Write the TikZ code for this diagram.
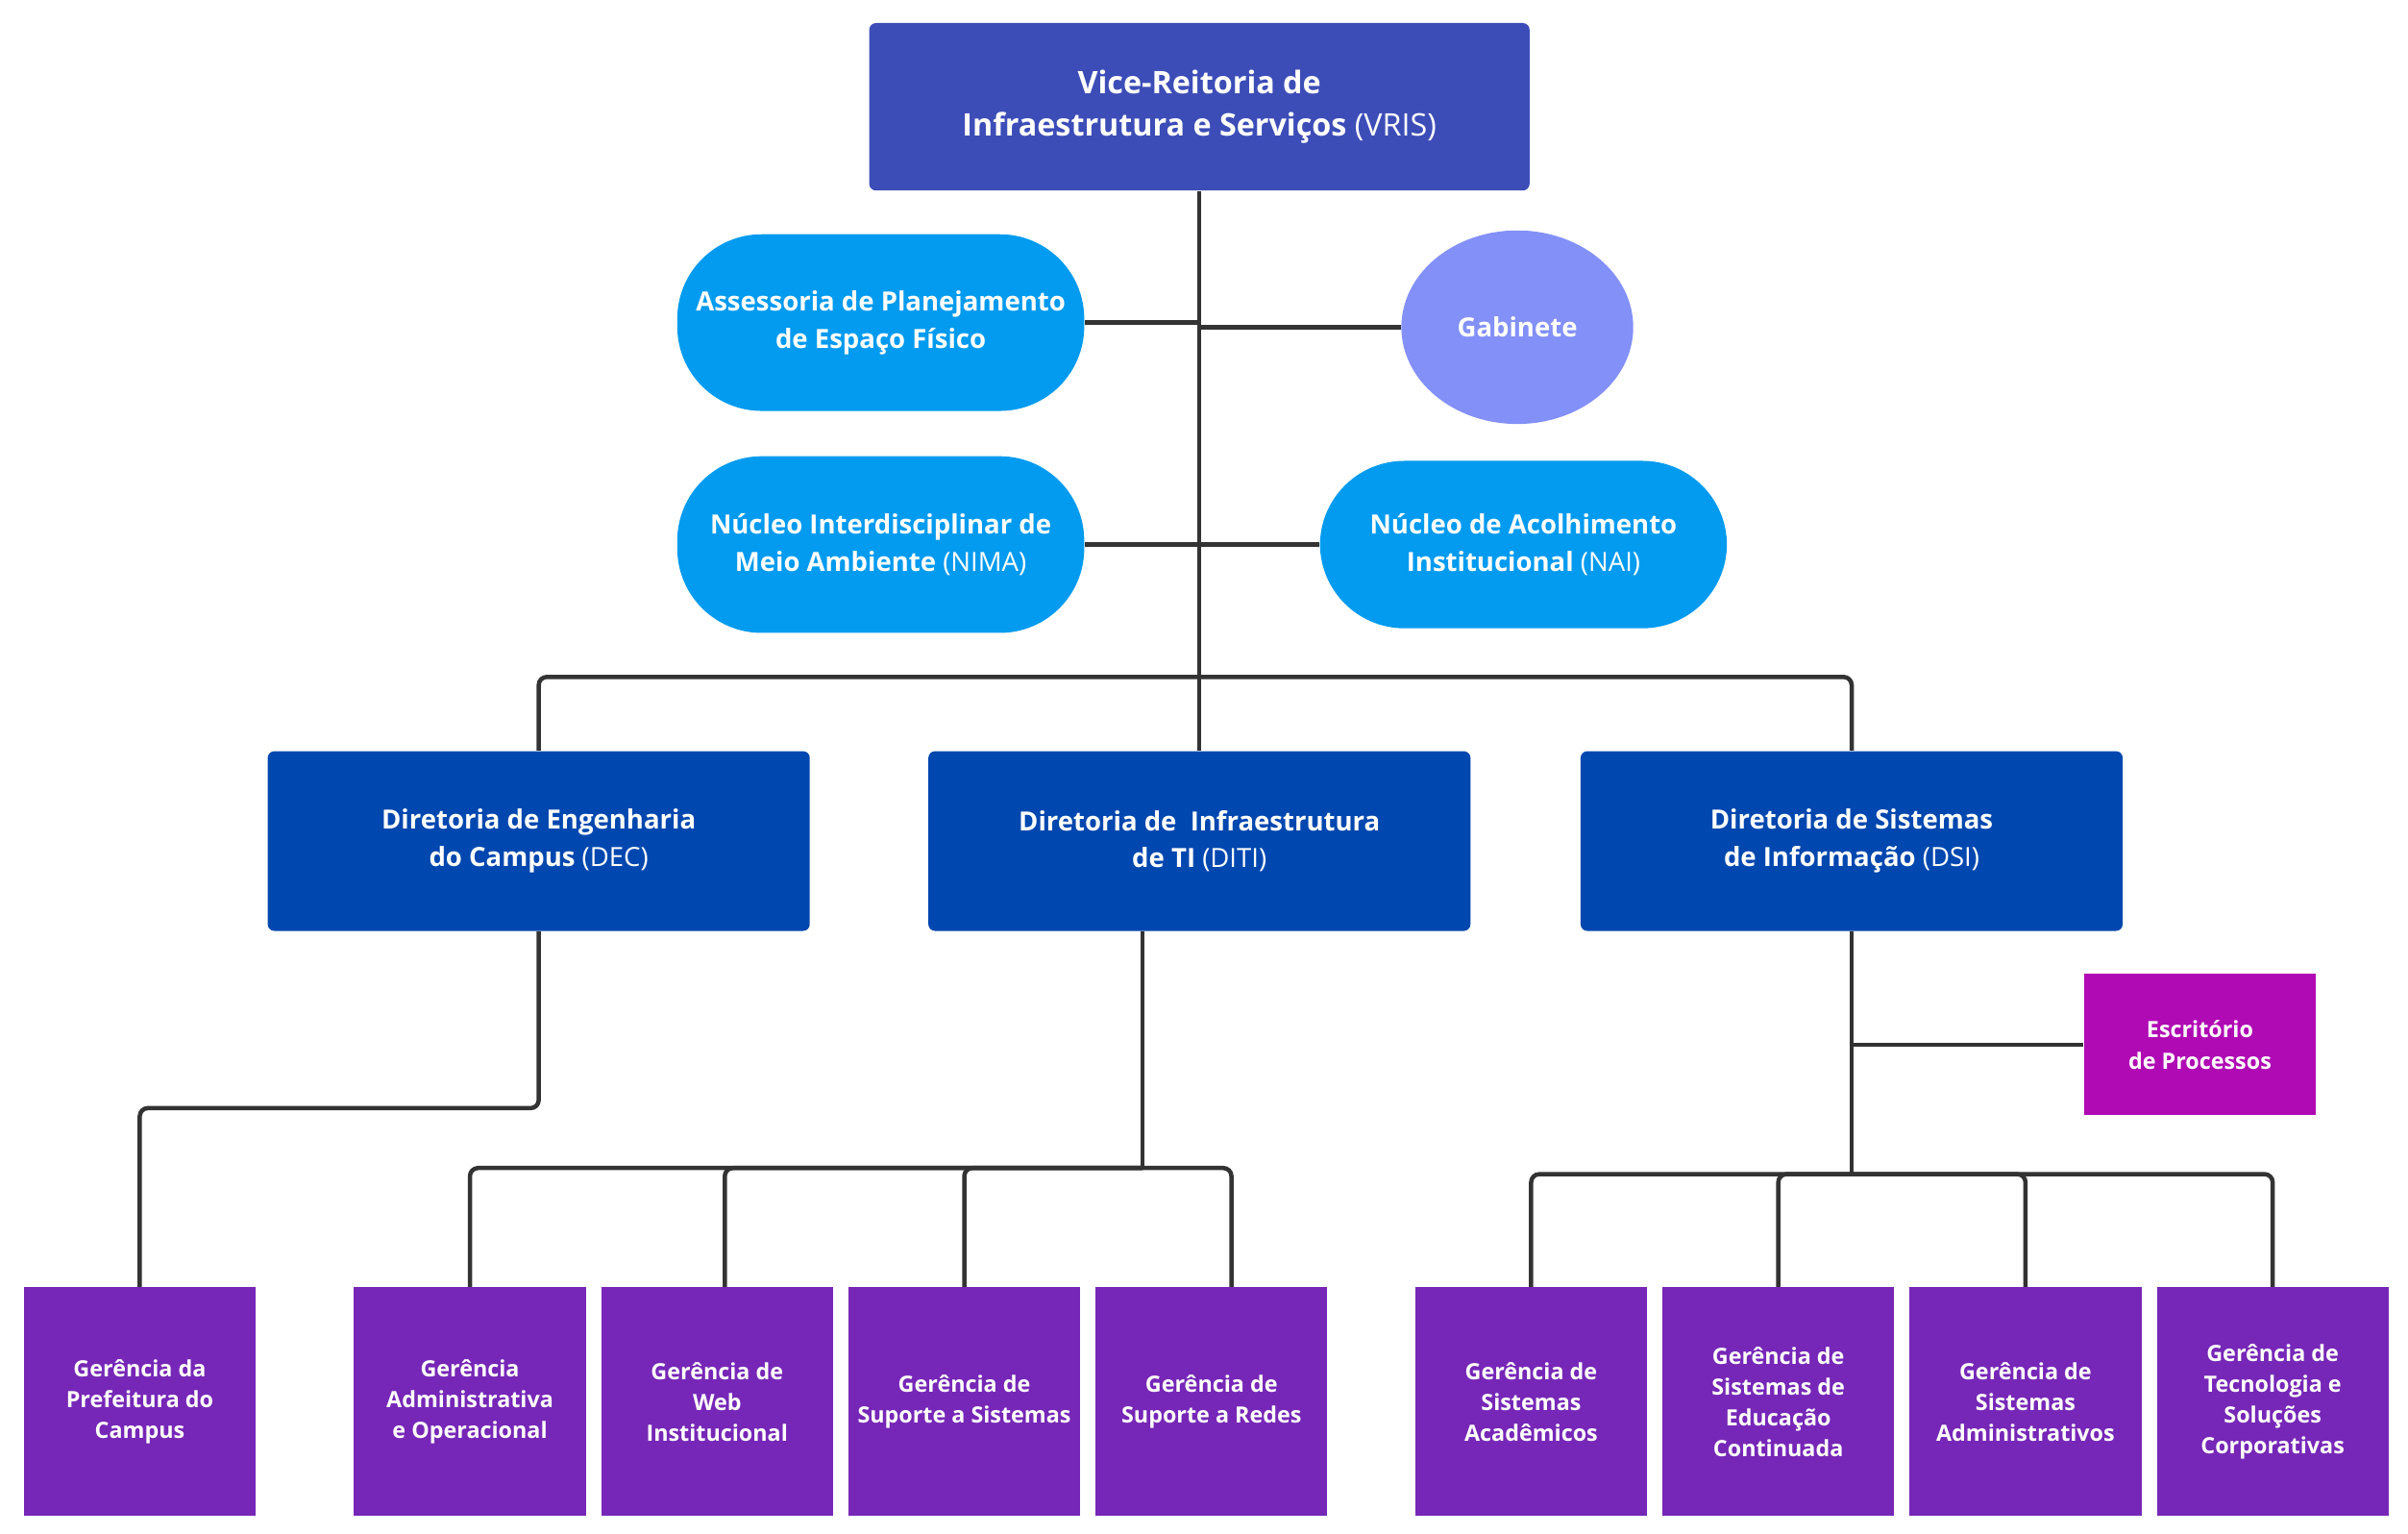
\documentclass[tikz,border=0pt]{standalone}
\usepackage{fontspec}
\setmainfont{Open Sans}
\usepackage{xcolor}
\usepackage{tikz}
\usetikzlibrary{arrows.meta,positioning,shapes.geometric,calc}

\definecolor{vrisblue}{HTML}{3D4DB7}
\definecolor{skyblue}{HTML}{039BEF}
\definecolor{lavender}{HTML}{8390F8}
\definecolor{dirblue}{HTML}{0047AF}
\definecolor{gerpurple}{HTML}{7627B7}
\definecolor{escrmag}{HTML}{B00AB4}
\definecolor{linkgray}{HTML}{333333}

\begin{document}
\begin{tikzpicture}[
  node distance=0.185cm and 0.185cm,
  topunit/.style={rectangle,rounded corners=2.5pt,fill=vrisblue,text=white,align=center,minimum width=8.6cm,minimum height=2.18cm,font=\fontsize{11.5}{16}\selectfont\bfseries},
  advisory/.style={rectangle,rounded corners=1.1cm,fill=skyblue,text=white,align=center,minimum width=5.3cm,minimum height=2.3cm,font=\fontsize{9.8}{13.7}\selectfont\bfseries},
  cabinet/.style={ellipse,fill=lavender,text=white,align=center,minimum width=3.02cm,minimum height=2.52cm,inner sep=0pt,font=\fontsize{9.8}{13.7}\selectfont\bfseries},
  directorate/.style={rectangle,rounded corners=2.5pt,fill=dirblue,text=white,align=center,minimum width=7.06cm,minimum height=2.34cm,font=\fontsize{9.8}{13.7}\selectfont\bfseries},
  manager/.style={rectangle,fill=gerpurple,text=white,align=center,minimum width=3.02cm,minimum height=2.98cm,inner sep=1pt,font=\fontsize{8.3}{11.4}\selectfont\bfseries},
  office/.style={rectangle,fill=escrmag,text=white,align=center,minimum width=3.02cm,minimum height=1.84cm,font=\fontsize{8.3}{11.8}\selectfont\bfseries},
  link/.style={draw=linkgray,line width=1.6pt,rounded corners=3pt}]
\useasboundingbox (0,0) rectangle (31.36,-19.96);

% top levels
\node[topunit] (vris) at (15.62,-1.39) {Vice-Reitoria de\\Infraestrutura e Serviços {\mdseries (VRIS)}};
\node[advisory] (asse) at (11.47,-4.2) {Assessoria de Planejamento\\de Espaço Físico};
\node[cabinet] (gab) at (19.76,-4.26) {Gabinete};
\node[advisory] (nima) at (11.47,-7.09) {Núcleo Interdisciplinar de\\Meio Ambiente {\mdseries (NIMA)}};
\node[advisory,minimum height=2.18cm] (nai) at (19.84,-7.09) {Núcleo de Acolhimento\\Institucional {\mdseries (NAI)}};

% directorates
\node[directorate] (diti) at (15.62,-10.95) {Diretoria de\ \ Infraestrutura\\de TI {\mdseries (DITI)}};
\node[directorate,left=1.53cm of diti] (dec) {Diretoria de Engenharia\\do Campus {\mdseries (DEC)}};
\node[directorate,right=1.42cm of diti] (dsi) {Diretoria de Sistemas\\de Informação {\mdseries (DSI)}};
\node[office] (escr) at (28.65,-13.6) {Escritório\\de Processos};

% managers
\node[manager] (gpref) at (1.82,-18.25) {Gerência da\\Prefeitura do\\Campus};
\node[manager] (gadm) at (6.12,-18.25) {Gerência\\Administrativa\\e Operacional};
\node[manager,right=of gadm] (gweb) {Gerência de\\Web\\Institucional};
\node[manager,right=of gweb] (gsupsis) {Gerência de\\Suporte a Sistemas};
\node[manager,right=of gsupsis] (gsupred) {Gerência de\\Suporte a Redes};
\node[manager] (gacad) at (19.94,-18.25) {Gerência de\\Sistemas\\Acadêmicos};
\node[manager,right=of gacad] (gedu) {Gerência de\\Sistemas de\\Educação\\Continuada};
\node[manager,right=of gedu] (gsadm) {Gerência de\\Sistemas\\Administrativos};
\node[manager,right=of gsadm] (gtec) {Gerência de\\Tecnologia e\\Soluções\\Corporativas};

% connectors
\draw[link] (vris.south) -- (diti.north);
\foreach \n in {asse,gab,nima,nai} {
  \draw[link] (\n) -- (\n -| vris.south);
}
\coordinate (topbus) at ($(diti.north)+(0,0.96)$);
\foreach \n in {dec,dsi} {
  \draw[link] (topbus) -| (\n.north);
}
\draw[link] (dec.south) -- ++(0,-2.3) -| (gpref.north);
\draw[link] ([xshift=-0.74cm]diti.south) -- ++(0,-3.08) coordinate (titbus);
\foreach \n/\dx in {gadm/0,gweb/0.1,gsupsis/0,gsupred/0.26} {
  \draw[link] (titbus) -| ([xshift=\dx cm]\n.north);
}
\draw[link] (dsi.south) -- ++(0,-3.16) coordinate (dsibus);
\draw[link] (escr.west) -- (escr.west -| dsi.south);
\foreach \n in {gacad,gedu,gsadm,gtec} {
  \draw[link] (dsibus) -| (\n.north);
}
\end{tikzpicture}
\end{document}
